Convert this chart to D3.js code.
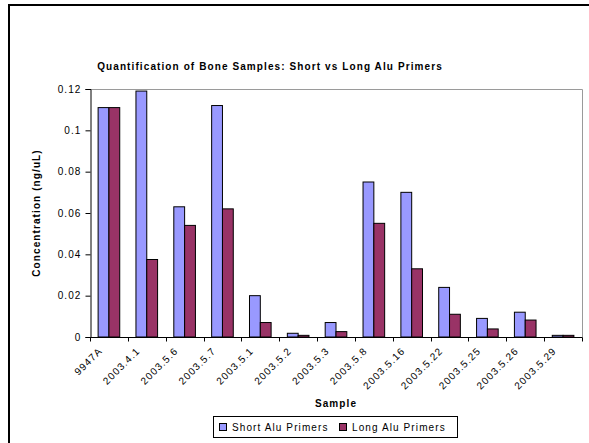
<!DOCTYPE html>
<html>
<head>
<meta charset="utf-8">
<script src="https://cdn.jsdelivr.net/npm/d3@7/dist/d3.min.js"></script>
<style>
  html, body { margin: 0; padding: 0; background: #fff; }
  svg { display: block; font-family: "Liberation Sans", Arial, sans-serif; }
  svg text { letter-spacing: 1.1px; }
</style>
</head>
<body>
<svg id="chart" width="589" height="443"></svg>
<script>
// Bone sample quantification (ng/uL) with two Alu primer sets
const samples = ["9947A", "2003.4.1", "2003.5.6", "2003.5.7", "2003.5.1", "2003.5.2", "2003.5.3",
                 "2003.5.8", "2003.5.16", "2003.5.22", "2003.5.25", "2003.5.26", "2003.5.29"];
const shortAlu = [0.111, 0.119, 0.063, 0.112, 0.020, 0.0018, 0.007, 0.075, 0.070, 0.024, 0.009, 0.012, 0.0008];
const longAlu  = [0.111, 0.0375, 0.054, 0.062, 0.007, 0.0008, 0.0026, 0.055, 0.033, 0.011, 0.0039, 0.0082, 0.0008];
const seriesNames = ["Short Alu Primers", "Long Alu Primers"];
const seriesColors = ["#9999FF", "#993366"];
const yTicks = [0, 0.02, 0.04, 0.06, 0.08, 0.1, 0.12];

const svg = d3.select("#chart");

// outer chart frame
svg.append("rect").attr("x", 9).attr("y", 5).attr("width", 600).attr("height", 460)
  .attr("fill", "#fff").attr("stroke", "#000").attr("stroke-width", 2);

const plot = { left: 90, right: 582, top: 89, bottom: 337 };

const x = d3.scaleBand().domain(samples).range([plot.left, plot.right]).paddingInner(0).paddingOuter(0);
// two bars per category with a 150% gap between groups
const barW = x.bandwidth() / 3.5;
const inner = d3.scaleBand().domain(seriesNames).range([0.75 * barW, 2.75 * barW]);
const y = d3.scaleLinear().domain([0, 0.12]).range([plot.bottom, plot.top]);

// plot area border (top/right grey)
svg.append("path")
  .attr("d", `M${plot.left},${plot.top + 0.5}H${plot.right + 0.5}V${plot.bottom}`)
  .attr("fill", "none").attr("stroke", "#9a9a9a").attr("stroke-width", 1);

// bars
const rows = samples.map((s, i) => ({ s, vals: [shortAlu[i], longAlu[i]] }));
const groups = svg.append("g").selectAll("g").data(rows).join("g")
  .attr("transform", d => `translate(${x(d.s)},0)`);
groups.selectAll("rect").data(d => d.vals.map((v, k) => ({ v, k }))).join("rect")
  .attr("x", d => inner(seriesNames[d.k]))
  .attr("y", d => y(d.v))
  .attr("width", inner.bandwidth())
  .attr("height", d => Math.max(0, y(0) - y(d.v)))
  .attr("fill", d => seriesColors[d.k])
  .attr("stroke", "#000").attr("stroke-width", 1);

// y axis
const yAxis = svg.append("g").attr("transform", `translate(${plot.left + 0.5},0)`)
  .call(d3.axisLeft(y).tickValues(yTicks).tickSize(5).tickPadding(4)
    .tickFormat(d => d === 0 ? "0" : String(+d.toFixed(2))));
yAxis.select(".domain").attr("stroke", "#000");
yAxis.selectAll(".tick line").attr("stroke", "#000");
yAxis.selectAll("text").attr("font-size", 10).attr("fill", "#000")
  .attr("font-family", "Liberation Sans, Arial, sans-serif");

// x axis: ticks at category boundaries
const xAxisG = svg.append("g").attr("transform", `translate(0,${plot.bottom + 0.5})`);
xAxisG.append("line").attr("x1", plot.left).attr("x2", plot.right + 0.5)
  .attr("stroke", "#000");
const bounds = samples.map(s => x(s)).concat([plot.right]);
xAxisG.selectAll("line.tk").data(bounds).join("line").attr("class", "tk")
  .attr("x1", d => Math.round(d) + 0.5).attr("x2", d => Math.round(d) + 0.5)
  .attr("y1", 0).attr("y2", 4).attr("stroke", "#000");
xAxisG.selectAll("text").data(samples).join("text")
  .attr("transform", d => `translate(${x(d) + x.bandwidth() / 2 - 6},${14}) rotate(-45)`)
  .attr("text-anchor", "end")
  .attr("font-size", 10)
  .attr("fill", "#000")
  .text(d => d);

// title and axis titles
svg.append("text").attr("x", 270).attr("y", 70).attr("text-anchor", "middle")
  .attr("font-size", 10).attr("font-weight", "bold").text("Quantification of Bone Samples: Short vs Long Alu Primers");
svg.append("text").attr("x", (plot.left + plot.right) / 2).attr("y", 407).attr("text-anchor", "middle")
  .attr("font-size", 10).attr("font-weight", "bold").text("Sample");
svg.append("text").attr("transform", `translate(40,${(plot.top + plot.bottom) / 2}) rotate(-90)`)
  .attr("text-anchor", "middle").attr("font-size", 10).attr("font-weight", "bold")
  .text("Concentration (ng/uL)");

// legend
const legend = svg.append("g").attr("transform", "translate(213.5,416.5)");
legend.append("rect").attr("width", 244).attr("height", 21).attr("fill", "#fff").attr("stroke", "#000");
const legX = [6, 126];
seriesNames.forEach((name, k) => {
  legend.append("rect").attr("x", legX[k]).attr("y", 7).attr("width", 7).attr("height", 7)
    .attr("fill", seriesColors[k]).attr("stroke", "#000");
  legend.append("text").attr("x", legX[k] + 12.5).attr("y", 14.5).attr("font-size", 10).text(name);
});
</script>
</body>
</html>
